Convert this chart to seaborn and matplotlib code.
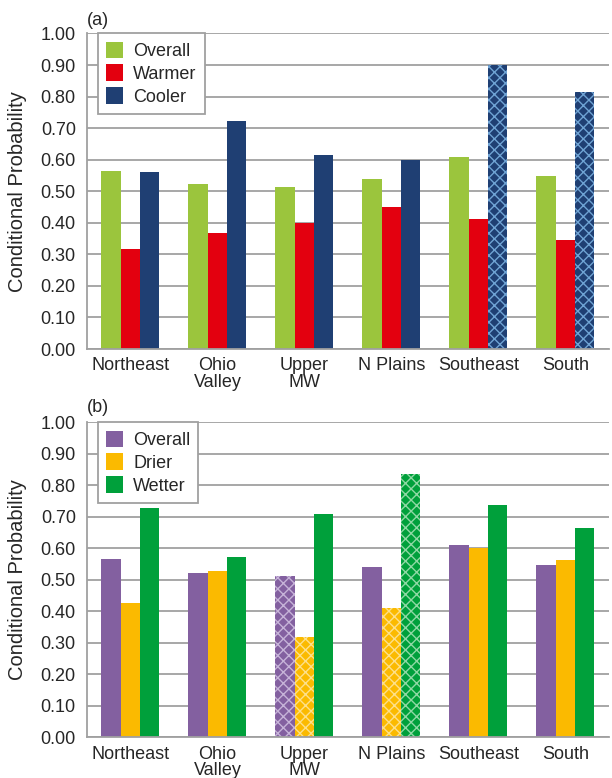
import pandas as pd
import seaborn as sns
import matplotlib.pyplot as plt
from matplotlib.patches import Patch

# regions along the x axis
regions = ["Northeast", "Ohio\nValley", "Upper\nMW", "N Plains", "Southeast", "South"]

# panel (a): temperature
overall_a = [0.565, 0.522, 0.512, 0.540, 0.610, 0.549]
warmer = [0.316, 0.368, 0.400, 0.450, 0.412, 0.347]
cooler = [0.562, 0.722, 0.615, 0.600, 0.900, 0.815]

# panel (b): precipitation
overall_b = [0.566, 0.522, 0.512, 0.540, 0.610, 0.548]
drier = [0.428, 0.529, 0.320, 0.411, 0.600, 0.564]
wetter = [0.728, 0.572, 0.708, 0.836, 0.737, 0.665]

# which bars are cross-hatched
hatch_a = [[0, 0, 0, 0, 0, 0], [0, 0, 0, 0, 0, 0], [0, 0, 0, 0, 1, 1]]
hatch_b = [[0, 0, 1, 0, 0, 0], [0, 0, 1, 1, 0, 0], [0, 0, 0, 1, 0, 0]]

yticks = [0.0, 0.1, 0.2, 0.3, 0.4, 0.5, 0.6, 0.7, 0.8, 0.9, 1.0]

sns.set_style("white")
plt.rcParams["font.family"] = ["Liberation Sans", "DejaVu Sans"]
plt.rcParams["hatch.linewidth"] = 1.0

fig = plt.figure(figsize=(6.12, 7.78), dpi=100)
ax_a = fig.add_axes([0.142, 0.5514, 0.853, 0.4056])
ax_b = fig.add_axes([0.142, 0.0523, 0.853, 0.4047])


def draw_panel(ax, series, names, colors, hatch_colors, hatches):
    rows = []
    for name, vals in zip(names, series):
        for reg, v in zip(regions, vals):
            rows.append({"region": reg, "kind": name, "value": v})
    df = pd.DataFrame(rows)

    sns.barplot(data=df, x="region", y="value", hue="kind", hue_order=names,
                palette=colors, width=0.667, saturation=1, linewidth=0,
                legend=False, ax=ax)

    # cross-hatch the marked bars
    for k, cont in enumerate(ax.containers):
        for j, bar in enumerate(cont.patches):
            if hatches[k][j]:
                bar.set_hatch("xxx")
                bar.set_edgecolor(hatch_colors[k])
                bar.set_linewidth(0)

    ax.set_xlim(-0.5, 5.5)
    ax.set_ylim(0, 1.0)
    ax.set_yticks(yticks)
    ax.set_yticklabels(["%.2f" % t for t in yticks], fontsize=13)
    ax.yaxis.grid(True, color="#a0a0a0", linewidth=1.3)
    ax.set_axisbelow(True)

    ax.set_xticks(range(len(regions)))
    ax.set_xticklabels(regions, fontsize=13, linespacing=0.95)
    ax.set_xticks([i - 0.5 for i in range(len(regions) + 1)], minor=True)
    ax.tick_params(axis="x", which="major", length=0, pad=6)
    ax.tick_params(axis="x", which="minor", length=6, color="#a0a0a0", width=1.2)
    ax.tick_params(axis="y", length=6, color="#a0a0a0", width=1.2, pad=2)

    for s in ["top", "right"]:
        ax.spines[s].set_visible(False)
    for s in ["left", "bottom"]:
        ax.spines[s].set_color("#a0a0a0")
        ax.spines[s].set_linewidth(1.3)

    ax.set_xlabel("")
    ax.set_ylabel("Conditional Probability", fontsize=14.5)
    ax.yaxis.set_label_coords(-0.114, 0.5)

    handles = [Patch(facecolor=c, edgecolor="none") for c in colors]
    leg = ax.legend(handles, names, loc="upper left", bbox_to_anchor=(0.021, 1.0),
                    borderaxespad=0, fontsize=13, frameon=True, fancybox=False,
                    framealpha=1, edgecolor="#a0a0a0", handlelength=0.95,
                    handleheight=1.05, handletextpad=0.55, labelspacing=0.24,
                    borderpad=0.45)
    leg.get_frame().set_linewidth(1.3)


draw_panel(ax_a, [overall_a, warmer, cooler], ["Overall", "Warmer", "Cooler"],
           ["#9bc53d", "#e3000f", "#1f3f73"], ["#9bc53d", "#e3000f", "#6fa3d4"],
           hatch_a)
draw_panel(ax_b, [overall_b, drier, wetter], ["Overall", "Drier", "Wetter"],
           ["#8360a0", "#fbba00", "#00a03b"], ["#c6b3d8", "#fde08a", "#8fd8a4"],
           hatch_b)

fig.text(0.142, 0.974, "(a)", fontsize=13, va="center", ha="left")
fig.text(0.142, 0.4756, "(b)", fontsize=13, va="center", ha="left")

fig.savefig("out.png", dpi=100)
